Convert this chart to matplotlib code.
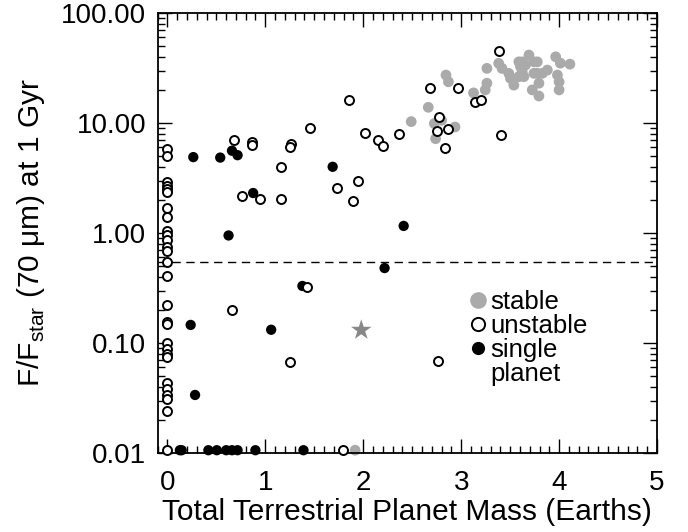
import matplotlib.pyplot as plt
from matplotlib.lines import Line2D
from matplotlib.ticker import MultipleLocator, FixedLocator, FixedFormatter, LogLocator, NullFormatter

plt.rcParams['font.family'] = ['Liberation Sans', 'DejaVu Sans']
plt.rcParams['mathtext.fontset'] = 'custom'
plt.rcParams['mathtext.rm'] = 'Liberation Sans'

FLOOR = 0.0106  # runs with no 70 um excess are pinned to the bottom axis

# stable multi-planet systems
stable_mass = [1.917, 2.49, 2.664, 2.726, 2.739, 2.80, 2.937, 2.845, 2.87,
               3.126, 3.246, 3.263, 3.263, 3.383, 3.417, 3.486, 3.503, 3.538,
               3.589, 3.623, 3.606, 3.623, 3.589, 3.64, 3.657, 3.692, 3.743,
               3.777, 3.743, 3.777, 3.829, 3.88, 3.794, 3.726, 3.794, 3.965,
               3.983, 4.0, 4.013, 4.11, 4.0]
stable_flux = [FLOOR, 10.3, 13.9, 9.9, 7.2, 10.6, 9.2, 27.3, 23.7,
               18.8, 20.0, 23.0, 31.4, 34.9, 31.4, 28.3, 25.5, 22.1,
               36.0, 36.0, 32.5, 29.3, 26.4, 26.4, 33.7, 41.5, 36.0,
               36.0, 28.3, 28.3, 28.3, 30.3, 23.0, 20.0, 17.6, 40.0,
               27.3, 23.7, 35.0, 34.3, 20.0]

# unstable systems
unstable_mass = [0.0] * 28 + [
    0.676, 0.865, 0.865, 1.26, 1.25, 1.454, 1.156, 0.763, 0.951, 1.156,
    1.729, 1.945, 1.896, 1.858, 2.023, 2.15, 2.2, 2.362, 2.68, 2.97,
    2.777, 2.75, 2.87, 2.835, 3.143, 3.2, 3.383, 3.41, 1.43, 0.66,
    1.25, 2.76, 1.79]
unstable_flux = [5.8, 5.0, 2.9, 2.7, 2.5, 2.35, 1.7, 1.4, 1.05, 0.95,
                 0.86, 0.75, 0.69, 0.54, 0.41, 0.22, 0.155, 0.148, 0.10, 0.088,
                 0.079, 0.075, 0.043, 0.038, 0.034, 0.031, 0.024, FLOOR] + [
    7.0, 6.7, 6.3, 6.5, 6.0, 9.1, 3.95, 2.18, 2.02, 2.02,
    2.55, 2.98, 1.97, 16.2, 8.05, 7.0, 6.2, 7.9, 20.8, 20.8,
    11.3, 8.45, 8.8, 5.9, 15.4, 16.2, 45.4, 7.8, 0.32, 0.198,
    0.067, 0.068, FLOOR]

# runs that end with a single planet
single_mass = [0.265, 0.54, 0.66, 0.717, 0.876, 1.688, 0.625, 2.413, 2.218,
               1.379, 0.238, 1.06, 0.283,
               0.128, 0.146, 0.419, 0.505, 0.601, 0.66, 0.717, 0.899, 1.39]
single_flux = [4.9, 4.85, 5.6, 5.1, 2.31, 4.0, 0.95, 1.16, 0.48,
               0.33, 0.146, 0.132, 0.0337] + [FLOOR] * 9

# Solar System reference point
sun_mass = [1.98]
sun_flux = [0.131]

detect_limit = 0.55

fig = plt.figure(figsize=(6.88, 5.32), dpi=100)
ax = fig.add_axes([0.229, 0.1485, 0.726, 0.827])

ax.axhline(detect_limit, color='black', lw=1, ls=(0, (6, 4)), zorder=1)
ax.scatter(stable_mass, stable_flux, s=60, c='#aaaaaa', edgecolors='none',
           zorder=2, clip_on=False)
ax.scatter(single_mass, single_flux, s=55, c='black', edgecolors='none',
           zorder=3, clip_on=False)
ax.scatter(unstable_mass, unstable_flux, s=42, facecolors='white',
           edgecolors='black', linewidths=1.4, zorder=4, clip_on=False)
ax.scatter(sun_mass, sun_flux, s=240, marker='*', c='#888888',
           edgecolors='none', zorder=5)

ax.set_yscale('log')
ax.set_xlim(-0.1, 5)
ax.set_ylim(0.01, 100)

yt = [0.01, 0.1, 1, 10, 100]
ax.yaxis.set_major_locator(FixedLocator(yt))
ax.yaxis.set_major_formatter(FixedFormatter(['%.2f' % v for v in yt]))
ax.yaxis.set_minor_locator(LogLocator(base=10, subs=range(2, 10)))
ax.yaxis.set_minor_formatter(NullFormatter())
ax.xaxis.set_major_locator(MultipleLocator(1))
ax.xaxis.set_minor_locator(MultipleLocator(0.1))

ax.tick_params(which='both', direction='in', top=True, right=True,
               labelsize=20, width=1)
ax.tick_params(which='major', length=10, pad=8)
ax.tick_params(axis='x', which='major', pad=12)
ax.tick_params(which='minor', length=5)
for sp in ax.spines.values():
    sp.set_linewidth(1.3)

ax.set_xlabel('Total Terrestrial Planet Mass (Earths)', fontsize=21.5, labelpad=2)
ax.set_ylabel('F/F$_{\\mathrm{star}}$ (70 \u03bcm) at 1 Gyr', fontsize=21.5,
              labelpad=10)

# last row carries the second line of the "single planet" label
handles = [
    Line2D([], [], ls='none', marker='o', ms=12, mfc='#aaaaaa', mec='none'),
    Line2D([], [], ls='none', marker='o', ms=9.5, mfc='white', mec='black', mew=1.4),
    Line2D([], [], ls='none', marker='o', ms=9.5, mfc='black', mec='none'),
    Line2D([], [], ls='none', marker='none'),
]
ax.legend(handles, ['stable', 'unstable', 'single', 'planet'], loc='upper left',
          bbox_to_anchor=(0.6, 0.4), frameon=False, fontsize=18.5,
          handlelength=0.6, handletextpad=0.2, labelspacing=0.0,
          borderpad=0)

fig.savefig('out.png', dpi=100)
